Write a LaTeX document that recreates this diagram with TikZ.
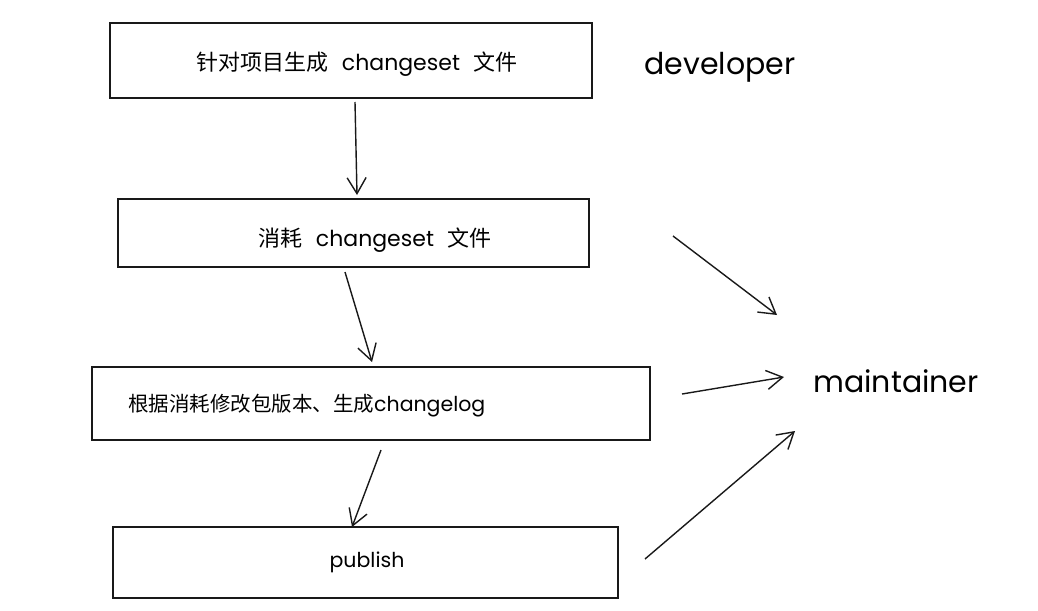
\documentclass[tikz,border=0pt]{standalone}
\usepackage{fontspec}
\setmainfont{Poppins}
\newfontfamily\cjk{Noto Sans CJK SC}
\usetikzlibrary{arrows.meta}
\begin{document}
\begin{tikzpicture}[x=1pt,y=-1pt,
  box/.style={draw=black!90,line width=1.5pt,fill=white},
  txt/.style={font=\fontsize{22}{26}\selectfont,inner sep=0pt},
  txtb/.style={font=\fontsize{20.5}{24}\selectfont,inner sep=0pt},
  role/.style={font=\fontsize{30}{34}\selectfont,inner sep=0pt},
  arr/.style={draw=black!90,line width=1.4pt,-{Straight Barb[length=16pt,width=19pt,line width=1.4pt]}}]
\useasboundingbox (0,0) rectangle (1038,610);
% boxes
\draw[box] (110,23) rectangle (592,98);
\draw[box] (118,199) rectangle (589,267);
\draw[box] (92,367) rectangle (650,440);
\draw[box] (113,527) rectangle (618,598);
\node (b1) [txt] at (357,64) {{\cjk 针对项目生成}\hspace{0.6em}changeset\hspace{0.6em}{\cjk 文件}};
\node (b2) [txt] at (375,240) {{\cjk 消耗}\hspace{0.6em}changeset\hspace{0.6em}{\cjk 文件}};
\node (b3) [txtb,anchor=west] at (128,406) {{\cjk 根据消耗修改包版本、生成}changelog};
\node (b4) [txtb] at (367,562) {publish};
\node (dev) [role] at (720,67) {developer};
\node (mnt) [role] at (896,381) {maintainer};
% connector ends
\coordinate (a1s) at (355,102);
\coordinate (a1e) at (357,195);
\coordinate (a2s) at (345,272);
\coordinate (a2e) at (372,362);
\coordinate (a3s) at (381,450);
\coordinate (a3e) at (352,527);
\coordinate (m1s) at (673,236);
\coordinate (m1e) at (777,315);
\coordinate (m2s) at (682,394);
\coordinate (m2e) at (784,377);
\coordinate (m3s) at (645,559);
\coordinate (m3e) at (795,431);
\draw[arr] (a1s) -- (a1e);
\draw[arr] (a2s) -- (a2e);
\draw[arr] (a3s) -- (a3e);
\draw[arr] (m1s) -- (m1e);
\draw[arr] (m2s) -- (m2e);
\draw[arr] (m3s) -- (m3e);
\end{tikzpicture}
\end{document}
